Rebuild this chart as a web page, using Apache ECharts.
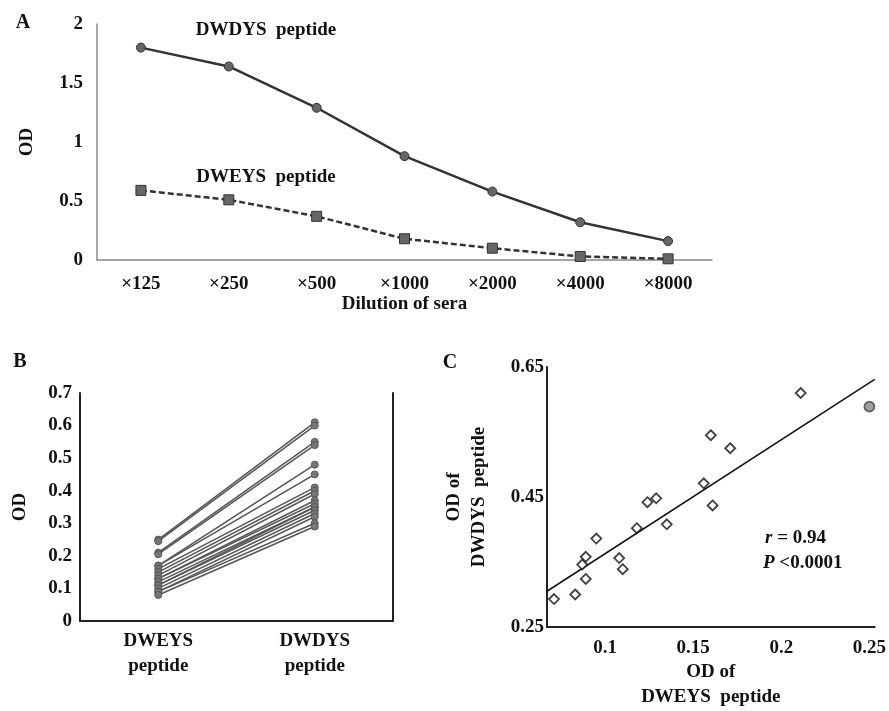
<!DOCTYPE html>
<html>
<head>
<meta charset="utf-8">
<script src="https://cdn.jsdelivr.net/npm/echarts@6/dist/echarts.min.js"></script>
<style>
html, body { margin: 0; padding: 0; background: #fff; }
#main { width: 889px; height: 711px; }
</style>
</head>
<body>
<div id="main"></div>
<script>
// A: OD against dilution of sera
var dilutions = ['×125', '×250', '×500', '×1000', '×2000', '×4000', '×8000'];
var dwdysOD = [1.80, 1.64, 1.29, 0.88, 0.58, 0.32, 0.16];
var dweysOD = [0.59, 0.51, 0.37, 0.18, 0.10, 0.03, 0.01];

// B: paired OD per serum
var pairCats = ['DWEYS\npeptide', 'DWDYS\npeptide'];
var bDweys = [0.25, 0.245, 0.21, 0.205, 0.17, 0.17, 0.16, 0.15, 0.14, 0.13, 0.13, 0.12, 0.11, 0.11, 0.10, 0.09, 0.09, 0.08];
var bDwdys = [0.61, 0.60, 0.55, 0.54, 0.48, 0.45, 0.41, 0.40, 0.39, 0.37, 0.36, 0.35, 0.35, 0.34, 0.33, 0.32, 0.30, 0.29];

// C: correlation
var cDweys = [0.071, 0.083, 0.087, 0.089, 0.089, 0.095, 0.108, 0.110, 0.118, 0.124, 0.129, 0.135, 0.156, 0.161, 0.160, 0.171, 0.211, 0.250];
var cDwdys = [0.293, 0.300, 0.346, 0.358, 0.324, 0.386, 0.356, 0.339, 0.402, 0.442, 0.448, 0.408, 0.471, 0.437, 0.545, 0.525, 0.610, 0.589];
var fitX = [0.067, 0.253];
var fitY = [0.305, 0.631];
var xTicksC = [0.1, 0.15, 0.2, 0.25];
var yTicksC = [0.25, 0.45, 0.65];

var FONT = 'Liberation Serif';
var txt = { fontFamily: FONT, fontWeight: 'bold', fontSize: 19, color: '#111' };

var chartDom = document.getElementById('main');
var chart = echarts.init(chartDom);

// B 的每条连线
var pairSeries = [];
for (var i = 0; i < bDweys.length; i++) {
    pairSeries.push({
        type: 'line',
        xAxisIndex: 1,
        yAxisIndex: 1,
        data: [bDweys[i], bDwdys[i]],
        symbol: 'circle',
        symbolSize: 7,
        lineStyle: { color: '#555', width: 1.5 },
        itemStyle: { color: '#777', borderColor: '#555', borderWidth: 1 },
        silent: true
    });
}

var scatterData = cDweys.map(function (x, i) {
    var item = { value: [x, cDwdys[i]] };
    if (i === cDweys.length - 1) {
        item.symbol = 'circle';
        item.itemStyle = { color: '#888', borderColor: '#444' };
    }
    return item;
});

var option = {
    animation: false,
    backgroundColor: '#fff',
    textStyle: { fontFamily: FONT },
    grid: [
        { left: 97, right: 177, top: 24, bottom: 451 },
        { left: 80, right: 496, top: 393, bottom: 90 },
        { left: 547, right: 12, top: 367, bottom: 83 }
    ],
    xAxis: [
        {
            gridIndex: 0,
            type: 'category',
            data: dilutions,
            boundaryGap: true,
            axisLine: { lineStyle: { color: '#888', width: 1.5 } },
            axisTick: { show: false },
            axisLabel: Object.assign({ margin: 15, interval: 0 }, txt),
            name: 'Dilution of sera',
            nameLocation: 'middle',
            nameGap: 25,
            nameTextStyle: txt
        },
        {
            gridIndex: 1,
            type: 'category',
            data: pairCats,
            boundaryGap: true,
            axisLine: { lineStyle: { color: '#222', width: 2 } },
            axisTick: { show: false },
            axisLabel: Object.assign({ margin: 8, lineHeight: 25, interval: 0 }, txt)
        },
        {
            gridIndex: 2,
            type: 'value',
            min: 0.067,
            max: 0.253,
            splitLine: { show: false },
            axisLine: { lineStyle: { color: '#222', width: 2 } },
            axisTick: { show: false },
            axisLabel: Object.assign({ margin: 12, customValues: xTicksC }, txt),
            name: 'OD of\nDWEYS  peptide',
            nameLocation: 'middle',
            nameGap: 33,
            nameTextStyle: Object.assign({ lineHeight: 25 }, txt)
        }
    ],
    yAxis: [
        {
            gridIndex: 0,
            type: 'value',
            min: 0,
            max: 2,
            interval: 0.5,
            splitLine: { show: false },
            axisLine: { show: true, lineStyle: { color: '#888', width: 1.5 } },
            axisTick: { show: false },
            axisLabel: Object.assign({ margin: 14 }, txt),
            name: 'OD',
            nameLocation: 'middle',
            nameRotate: 90,
            nameGap: 60,
            nameTextStyle: txt
        },
        {
            gridIndex: 1,
            type: 'value',
            min: 0,
            max: 0.7,
            interval: 0.1,
            splitLine: { show: false },
            axisLine: { show: true, lineStyle: { color: '#222', width: 2 } },
            axisTick: { show: false },
            axisLabel: Object.assign({ margin: 8 }, txt),
            name: 'OD',
            nameLocation: 'middle',
            nameRotate: 90,
            nameGap: 50,
            nameTextStyle: txt
        },
        {
            gridIndex: 2,
            type: 'value',
            min: 0.25,
            max: 0.65,
            splitLine: { show: false },
            axisLine: { show: true, lineStyle: { color: '#222', width: 2 } },
            axisTick: { show: false },
            axisLabel: Object.assign({ margin: 3, customValues: yTicksC }, txt),
            name: 'OD of\nDWDYS  peptide',
            nameLocation: 'middle',
            nameRotate: 90,
            nameGap: 55,
            nameTextStyle: Object.assign({ lineHeight: 25 }, txt)
        },
        {
            // B 右侧边框
            gridIndex: 1,
            type: 'value',
            position: 'right',
            min: 0,
            max: 0.7,
            splitLine: { show: false },
            axisLine: { show: true, lineStyle: { color: '#222', width: 2 } },
            axisTick: { show: false },
            axisLabel: { show: false }
        }
    ],
    series: [
        {
            name: 'DWDYS peptide',
            type: 'line',
            xAxisIndex: 0,
            yAxisIndex: 0,
            data: dwdysOD,
            symbol: 'circle',
            symbolSize: 9,
            lineStyle: { color: '#333', width: 2.5 },
            itemStyle: { color: '#666', borderColor: '#333', borderWidth: 1 }
        },
        {
            name: 'DWEYS peptide',
            type: 'line',
            xAxisIndex: 0,
            yAxisIndex: 0,
            data: dweysOD,
            symbol: 'rect',
            symbolSize: 10,
            lineStyle: { color: '#333', width: 2.5, type: [6, 3] },
            itemStyle: { color: '#666', borderColor: '#333', borderWidth: 1 }
        }
    ].concat(pairSeries).concat([
        {
            type: 'scatter',
            xAxisIndex: 2,
            yAxisIndex: 2,
            data: scatterData,
            symbol: 'diamond',
            symbolSize: 10,
            itemStyle: { color: '#fff', borderColor: '#111', borderWidth: 1.8 },
            z: 3
        },
        {
            type: 'line',
            xAxisIndex: 2,
            yAxisIndex: 2,
            data: fitX.map(function (x, i) { return [x, fitY[i]]; }),
            symbol: 'none',
            lineStyle: { color: '#111', width: 1.5 },
            z: 2
        }
    ]),
    graphic: [
        { type: 'text', x: 23, y: 23, style: { text: 'A', font: 'bold 20px ' + FONT, fill: '#111', align: 'center', verticalAlign: 'middle' } },
        { type: 'text', x: 20, y: 362, style: { text: 'B', font: 'bold 20px ' + FONT, fill: '#111', align: 'center', verticalAlign: 'middle' } },
        { type: 'text', x: 450, y: 363, style: { text: 'C', font: 'bold 20px ' + FONT, fill: '#111', align: 'center', verticalAlign: 'middle' } },
        { type: 'text', x: 266, y: 30, style: { text: 'DWDYS  peptide', font: 'bold 19px ' + FONT, fill: '#111', align: 'center', verticalAlign: 'middle' } },
        { type: 'text', x: 266, y: 177, style: { text: 'DWEYS  peptide', font: 'bold 19px ' + FONT, fill: '#111', align: 'center', verticalAlign: 'middle' } },
        {
            type: 'text', x: 765, y: 538,
            style: {
                text: '{i|r} = 0.94', font: 'bold 19px ' + FONT, fill: '#111', verticalAlign: 'middle',
                rich: { i: { fontStyle: 'italic', fontWeight: 'bold', fontSize: 19, fontFamily: FONT } }
            }
        },
        {
            type: 'text', x: 763, y: 563,
            style: {
                text: '{i|P} <0.0001', font: 'bold 19px ' + FONT, fill: '#111', verticalAlign: 'middle',
                rich: { i: { fontStyle: 'italic', fontWeight: 'bold', fontSize: 19, fontFamily: FONT } }
            }
        }
    ]
};

chart.setOption(option);
</script>
</body>
</html>
